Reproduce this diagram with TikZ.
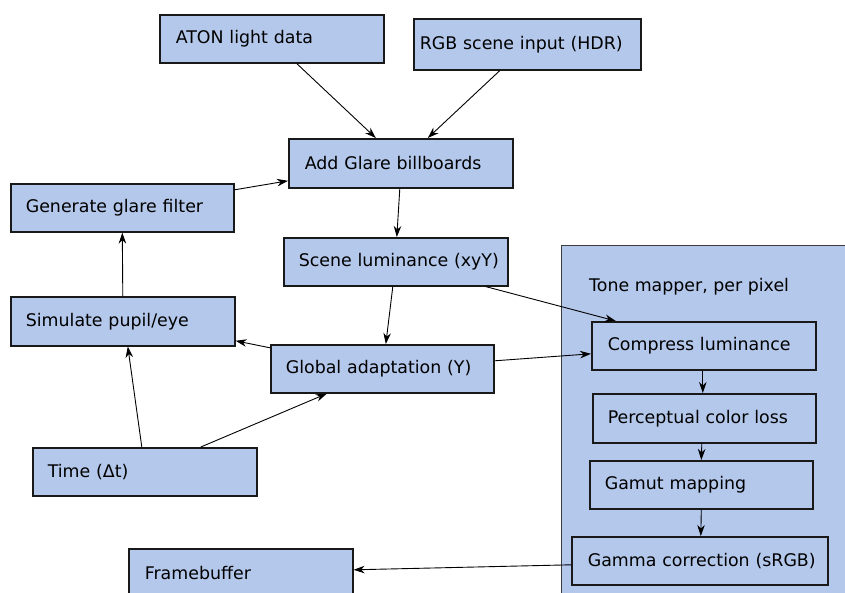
\documentclass[tikz,border=0pt]{standalone}
\usepackage{fontspec}
\setmainfont{DejaVu Sans}
\usetikzlibrary{arrows.meta}
\definecolor{boxfill}{RGB}{180,200,235}
\definecolor{boxline}{RGB}{25,25,25}
\definecolor{toneline}{RGB}{60,60,60}
\tikzset{
  box/.style={draw=boxline, fill=boxfill, line width=1.6pt, anchor=north west,
    inner ysep=0pt, align=left, font=\fontsize{17.4}{21}\selectfont},
  tonebox/.style={draw=toneline, fill=boxfill, line width=1.4pt, anchor=north west},
  arr/.style={draw=black, line width=0.9pt, -{Stealth[length=11pt,width=7.5pt,inset=3.5pt]}}
}
\begin{document}
\begin{tikzpicture}[x=1pt,y=-1pt]
\useasboundingbox (0,0) rectangle (845,592);
\clip (0,0) rectangle (845,592);
% nodes
\node[box, minimum height=48pt, inner xsep=16pt, text width=192pt] (aton) at (159,14) {\mbox{ATON light data}};
\node[box, minimum height=51pt, inner xsep=6pt, text width=215pt] (rgb) at (413,18) {\mbox{RGB scene input (HDR)}};
\node[box, minimum height=49pt, inner xsep=16pt, text width=192pt] (glare) at (288,138) {\mbox{Add Glare billboards}};
\node[box, minimum height=48pt, inner xsep=15pt, text width=193pt] (gen) at (10,183) {\mbox{Generate glare filter}};
\node[box, minimum height=48pt, inner xsep=15pt, text width=194pt] (scene) at (283,237) {\mbox{Scene luminance (xyY)}};
\node[box, minimum height=49pt, inner xsep=15pt, text width=194pt] (sim) at (10,296) {\mbox{Simulate pupil/eye}};
\node[box, minimum height=48pt, inner xsep=15pt, text width=193pt] (glob) at (270,344) {\mbox{Global adaptation (Y)}};
\node[box, minimum height=48pt, inner xsep=15pt, text width=194pt] (time) at (32,447) {\mbox{Time (Δt)}};
\node[box, minimum height=48pt, inner xsep=16pt, text width=192pt] (fb) at (128,548) {\mbox{Framebuffer}};
% tone mapper group
\node[tonebox, minimum width=320pt, minimum height=400pt] (tone) at (561,245) {};
\node[anchor=west, inner sep=0pt, font=\fontsize{17.4}{21}\selectfont] (tonelabel) at (589,287) {Tone mapper, per pixel};
\node[box, minimum height=48pt, inner xsep=16pt, text width=192pt] (comp) at (591,321) {\mbox{Compress luminance}};
\node[box, minimum height=49pt, inner xsep=15pt, text width=193pt] (perc) at (592,393) {\mbox{Perceptual color loss}};
\node[box, minimum height=48pt, inner xsep=15pt, text width=193pt] (gamut) at (589,460) {\mbox{Gamut mapping}};
\node[box, minimum height=48pt, inner xsep=16pt, text width=224pt] (gamma) at (571,536) {\mbox{Gamma correction (sRGB)}};
% connectors
\draw[arr] ([xshift=25pt]aton.south) -- ([xshift=-25pt]glare.north);
\draw[arr] ([xshift=-27.5pt]rgb.south) -- ([xshift=27pt]glare.north);
\draw[arr] ([yshift=18pt]gen.east) -- ([yshift=-17.5pt]glare.west);
\draw[arr] ([xshift=-1pt]glare.south) -- ([xshift=1pt]scene.north);
\draw[arr] (sim.north) -- (gen.south);
\draw[arr] ([xshift=-3pt]scene.south) -- ([xshift=3.5pt]glob.north);
\draw[arr] ([xshift=90pt]scene.south) -- ([xshift=-88pt]comp.north);
\draw[arr] ([yshift=21pt]glob.west) -- ([yshift=-19.5pt]sim.east);
\draw[arr] ([yshift=8pt]glob.east) -- ([yshift=-8pt]comp.west);
\draw[arr] ([xshift=-3pt]time.north) -- ([xshift=5pt]sim.south);
\draw[arr] ([xshift=56pt]time.north) -- ([xshift=-55.5pt]glob.south);
\draw[arr] ([xshift=-1pt]comp.south) -- ([xshift=-1.5pt]perc.north);
\draw[arr] ([xshift=-2.5pt]perc.south) -- (gamut.north);
\draw[arr] (gamut.south) -- ([xshift=1pt]gamma.north);
\draw[arr] ([yshift=-4pt]gamma.west) -- ([yshift=3pt]fb.east);
\end{tikzpicture}
\end{document}
